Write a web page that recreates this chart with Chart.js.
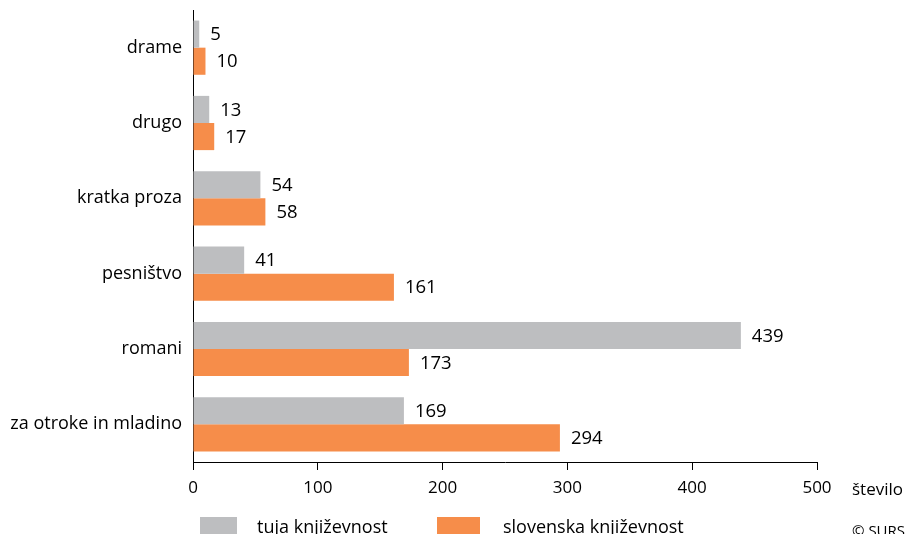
<!DOCTYPE html>
<html>
<head>
<meta charset="utf-8">
<script src="https://cdn.jsdelivr.net/npm/chart.js@4/dist/chart.umd.min.js"></script>
<style>
    html, body { margin: 0; padding: 0; background: #ffffff; }
    #wrap { width: 906px; height: 534px; position: relative; }
</style>
</head>
<body>
<div id="wrap"><canvas id="booksChart" width="906" height="534"></canvas></div>
<script>
// categories and values
var categories = ["drame", "drugo", "kratka proza", "pesništvo", "romani", "za otroke in mladino"];
var foreignBooks = [5, 13, 54, 41, 439, 169];     // tuja književnost
var slovenianBooks = [10, 17, 58, 161, 173, 294]; // slovenska književnost
var seriesNames = ["tuja književnost", "slovenska književnost"];
var xTicks = [0, 100, 200, 300, 400, 500];

var grayColor = "#bdbec0";
var orangeColor = "#f68d4a";
var fontName = "'Open Sans', 'Noto Sans', sans-serif";

// value labels to the right of each bar
var valueLabels = {
    id: "valueLabels",
    afterDatasetsDraw: function (chart) {
        var ctx = chart.ctx;
        ctx.save();
        ctx.font = "18.5px " + fontName;
        ctx.fillStyle = "#000";
        ctx.textAlign = "left";
        ctx.textBaseline = "middle";
        chart.data.datasets.forEach(function (ds, i) {
            chart.getDatasetMeta(i).data.forEach(function (bar, j) {
                ctx.fillText(ds.data[j], bar.x + 11, bar.y + 1);
            });
        });
        ctx.restore();
    }
};

// axis title, legend and source note
var extras = {
    id: "extras",
    afterDraw: function (chart) {
        var ctx = chart.ctx;
        ctx.save();
        ctx.fillStyle = "#000";
        ctx.textBaseline = "middle";
        ctx.font = "17px " + fontName;
        ctx.fillText("število", 852, 490);

        ctx.fillStyle = grayColor;
        ctx.fillRect(200, 517, 37, 20);
        ctx.fillStyle = orangeColor;
        ctx.fillRect(437, 517, 43, 20);

        ctx.fillStyle = "#000";
        ctx.textBaseline = "alphabetic";
        ctx.font = "18px " + fontName;
        ctx.fillText(seriesNames[0], 257, 533);
        ctx.fillText(seriesNames[1], 503, 533);

        ctx.font = "15px " + fontName;
        ctx.fillText("© SURS", 852, 536);
        ctx.restore();
    }
};

new Chart(document.getElementById("booksChart"), {
    type: "bar",
    data: {
        labels: categories,
        datasets: [
            { label: seriesNames[0], data: foreignBooks, backgroundColor: grayColor },
            { label: seriesNames[1], data: slovenianBooks, backgroundColor: orangeColor }
        ]
    },
    options: {
        indexAxis: "y",
        responsive: false,
        animation: false,
        layout: { padding: { top: 10, right: 89, left: 0, bottom: 0 } },
        datasets: {
            bar: { categoryPercentage: 0.72, barPercentage: 1, borderWidth: 0 }
        },
        plugins: {
            legend: { display: false },
            tooltip: { enabled: false }
        },
        scales: {
            x: {
                min: 0,
                max: 500,
                afterBuildTicks: function (axis) {
                    axis.ticks = xTicks.map(function (v) { return { value: v }; });
                },
                afterFit: function (axis) {
                    axis.height = 72;
                    axis.paddingLeft = 0;
                    axis.paddingRight = 0;
                },
                grid: { drawOnChartArea: false, drawTicks: true, tickLength: 8, color: "#000", lineWidth: 1 },
                border: { display: true, color: "#000", width: 1 },
                ticks: { color: "#000", font: { family: fontName, size: 17 }, padding: 8, maxRotation: 0 }
            },
            y: {
                afterFit: function (axis) {
                    axis.width = 193;
                    axis.paddingTop = 0;
                    axis.paddingBottom = 0;
                },
                grid: { display: false, drawTicks: false },
                border: { display: true, color: "#000", width: 1 },
                ticks: { color: "#000", font: { family: fontName, size: 18 }, padding: 11 }
            }
        }
    },
    plugins: [valueLabels, extras]
});
</script>
</body>
</html>
